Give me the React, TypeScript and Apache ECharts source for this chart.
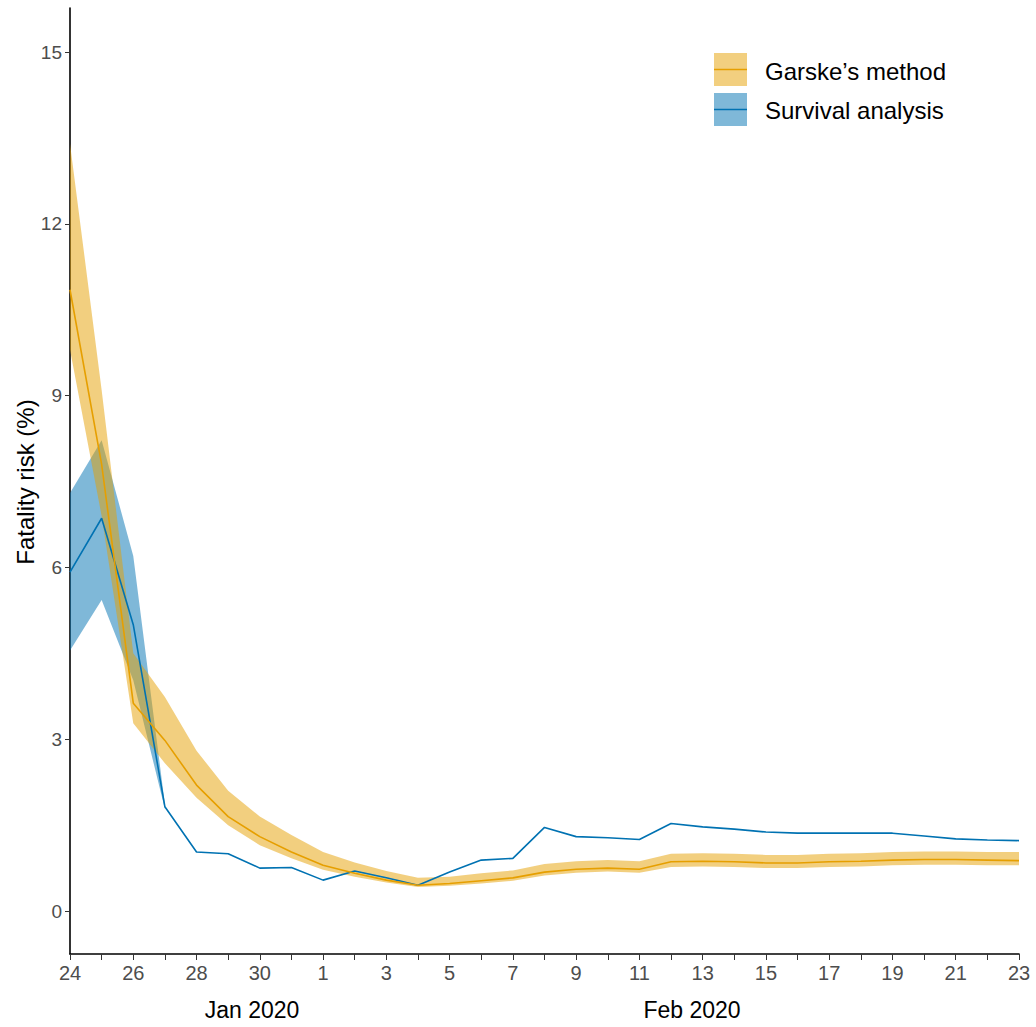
import React, { useEffect, useRef } from "react";
import * as echarts from "echarts";

const dates: string[] = [
  "Jan 24","Jan 25","Jan 26","Jan 27","Jan 28","Jan 29","Jan 30","Jan 31",
  "Feb 1","Feb 2","Feb 3","Feb 4","Feb 5","Feb 6","Feb 7","Feb 8","Feb 9","Feb 10",
  "Feb 11","Feb 12","Feb 13","Feb 14","Feb 15","Feb 16","Feb 17","Feb 18","Feb 19",
  "Feb 20","Feb 21","Feb 22","Feb 23",
];

const garskeMid: number[] = [10.85, 7.8, 3.63, 2.98, 2.2, 1.65, 1.3, 1.03, 0.8, 0.66, 0.54, 0.45, 0.48, 0.53, 0.58, 0.68, 0.73, 0.75, 0.73, 0.86, 0.87, 0.86, 0.84, 0.84, 0.86, 0.87, 0.89, 0.9, 0.9, 0.89, 0.88];
const garskeUpper: number[] = [13.4, 9.1, 4.5, 3.74, 2.8, 2.1, 1.65, 1.33, 1.03, 0.85, 0.7, 0.58, 0.6, 0.66, 0.71, 0.82, 0.87, 0.89, 0.87, 1.0, 1.01, 1.0, 0.98, 0.98, 1.0, 1.01, 1.03, 1.04, 1.04, 1.03, 1.03];
const garskeLower: number[] = [9.8, 6.9, 3.28, 2.58, 1.98, 1.5, 1.15, 0.92, 0.72, 0.6, 0.5, 0.42, 0.44, 0.48, 0.53, 0.62, 0.67, 0.69, 0.67, 0.77, 0.78, 0.77, 0.75, 0.75, 0.77, 0.78, 0.8, 0.81, 0.81, 0.8, 0.8];

const survivalMid: number[] = [5.92, 6.86, 5.0, 1.82, 1.03, 1.0, 0.75, 0.76, 0.54, 0.7, 0.58, 0.45, 0.68, 0.89, 0.92, 1.46, 1.3, 1.28, 1.25, 1.53, 1.47, 1.43, 1.38, 1.36, 1.36, 1.36, 1.36, 1.31, 1.26, 1.24, 1.23];
const survivalUpper: (number | null)[] = [7.3, 8.22, 6.2, 1.86];
const survivalLower: (number | null)[] = [4.55, 5.43, 4.03, 1.78];

const yTicks: number[] = [0, 3, 6, 9, 12, 15];
const yTitle = "Fatality risk (%)";
const monthLabels: string[] = ["Jan 2020", "Feb 2020"];
const legendNames: string[] = ["Garske\u2019s method", "Survival analysis"];

const ORANGE = "#E69F00";
const ORANGE_FILL = "rgba(230,159,0,0.5)";
const BLUE = "#0072B2";
const BLUE_FILL = "rgba(0,114,178,0.5)";
const FONT = "Liberation Sans, Arial, sans-serif";

export default function App() {
  const ref = useRef<HTMLDivElement>(null);

  useEffect(() => {
    document.body.style.margin = "0";
    if (!ref.current) return;
    const chart = echarts.init(ref.current, undefined, { renderer: "svg" });

    const gDiff = garskeUpper.map((u, i) => +(u - garskeLower[i]).toFixed(3));
    const sDiff = survivalUpper.map((u, i) =>
      u == null || survivalLower[i] == null ? null : +((u as number) - (survivalLower[i] as number)).toFixed(3)
    );

    const option: any = {
      animation: false,
      backgroundColor: "#ffffff",
      grid: { left: 70, right: 17, top: 8, bottom: 73, containLabel: false, outerBoundsMode: "none" },
      xAxis: {
        type: "category",
        data: dates,
        boundaryGap: false,
        axisLine: { show: true, onZero: false, lineStyle: { color: "#000000", width: 1.6 } },
        axisTick: { show: true, interval: 0, length: 6, lineStyle: { color: "#333333", width: 1 } },
        axisLabel: {
          interval: 1,
          color: "#4D4D4D",
          fontSize: 20,
          fontFamily: FONT,
          margin: 9,
          formatter: (v: string) => v.split(" ")[1],
        },
        splitLine: { show: false },
      },
      yAxis: {
        type: "value",
        min: -0.75,
        max: 15.77,
        axisLine: { show: true, onZero: false, lineStyle: { color: "#000000", width: 1.6 } },
        axisTick: { show: true, length: 5, customValues: yTicks, lineStyle: { color: "#333333" } },
        axisLabel: { color: "#4D4D4D", fontSize: 19, fontFamily: FONT, margin: 8, customValues: yTicks },
        splitLine: { show: false },
      },
      series: [
        {
          name: "sLow", type: "line", data: survivalLower, stack: "s", symbol: "none",
          lineStyle: { opacity: 0 }, silent: true, z: 1,
        },
        {
          name: "sBand", type: "line", data: sDiff, stack: "s", symbol: "none",
          lineStyle: { opacity: 0 }, areaStyle: { color: BLUE_FILL, opacity: 1 }, silent: true, z: 1,
        },
        {
          name: "gLow", type: "line", data: garskeLower, stack: "g", symbol: "none",
          lineStyle: { opacity: 0 }, silent: true, z: 2,
        },
        {
          name: "gBand", type: "line", data: gDiff, stack: "g", symbol: "none",
          lineStyle: { opacity: 0 }, areaStyle: { color: ORANGE_FILL, opacity: 1 }, silent: true, z: 2,
        },
        {
          name: legendNames[1], type: "line", data: survivalMid, symbol: "none",
          lineStyle: { color: BLUE, width: 1.6 }, z: 3,
        },
        {
          name: legendNames[0], type: "line", data: garskeMid, symbol: "none",
          lineStyle: { color: ORANGE, width: 1.6 }, z: 3,
        },
      ],
      graphic: [
        { type: "rect", shape: { x: 714, y: 53, width: 33, height: 33 }, style: { fill: ORANGE_FILL } },
        { type: "line", shape: { x1: 714, y1: 69.5, x2: 747, y2: 69.5 }, style: { stroke: ORANGE, lineWidth: 1.6 } },
        { type: "rect", shape: { x: 714, y: 93, width: 33, height: 33 }, style: { fill: BLUE_FILL } },
        { type: "line", shape: { x1: 714, y1: 109.5, x2: 747, y2: 109.5 }, style: { stroke: BLUE, lineWidth: 1.6 } },
        { type: "text", x: 765, y: 71, style: { text: legendNames[0], fontSize: 24, fontFamily: FONT, fill: "#000000", verticalAlign: "middle" } },
        { type: "text", x: 765, y: 110, style: { text: legendNames[1], fontSize: 24, fontFamily: FONT, fill: "#000000", verticalAlign: "middle" } },
        { type: "text", x: 252, y: 1010, style: { text: monthLabels[0], fontSize: 23, fontFamily: FONT, fill: "#000000", align: "center", verticalAlign: "middle" } },
        { type: "text", x: 692, y: 1010, style: { text: monthLabels[1], fontSize: 23, fontFamily: FONT, fill: "#000000", align: "center", verticalAlign: "middle" } },
        { type: "text", x: 25, y: 482, rotation: Math.PI / 2, style: { text: yTitle, fontSize: 24, fontFamily: FONT, fill: "#000000", align: "center", verticalAlign: "middle" } },
      ],
    };

    chart.setOption(option);
    return () => chart.dispose();
  }, []);

  return <div ref={ref} style={{ width: 1036, height: 1027 }} />;
}
